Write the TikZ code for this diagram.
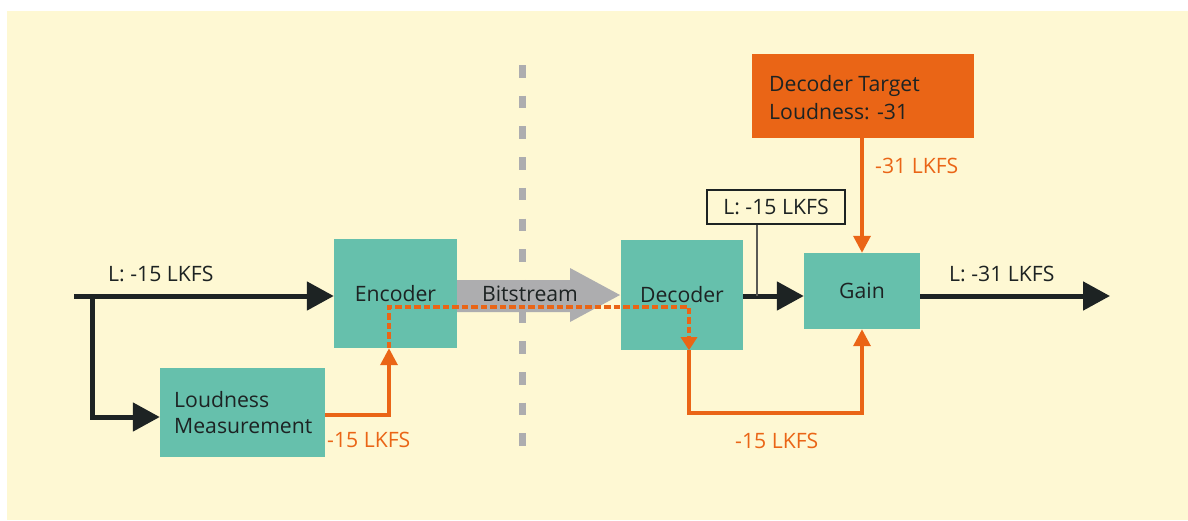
\documentclass[tikz,border=0pt]{standalone}
\usepackage{fontspec}
\setmainfont{Open Sans}
\usetikzlibrary{arrows.meta,calc}

\definecolor{paper}{HTML}{FEF8D3}
\definecolor{teal}{HTML}{66C0AC}
\definecolor{sig}{HTML}{EA6516}
\definecolor{ink}{HTML}{1D2323}
\definecolor{bitgray}{HTML}{ADADAF}
\definecolor{stemgray}{HTML}{5A5A55}

\tikzset{
  txt/.style={font=\fontsize{21.2}{28}\selectfont, text=ink},
  block/.style={fill=teal, draw=none, inner sep=0pt, txt},
  blk/.style={draw=ink, line width=5pt, -{Triangle[length=27pt,width=28pt]}},
  org/.style={draw=sig, line width=3.5pt, -{Triangle[length=17pt,width=17pt]}},
  orgdash/.style={draw=sig, line width=4pt, dash pattern=on 6.5pt off 3pt,
    -{Triangle[length=13pt,width=16pt]}},
  olabel/.style={txt, text=sig, anchor=base west, inner sep=0pt},
  klabel/.style={txt, anchor=base west, inner sep=0pt},
}

\begin{document}
\begin{tikzpicture}[x=1pt,y=-1pt]
  % page and panel
  \useasboundingbox (0,0) rectangle (1188,520);
  \fill[white] (0,0) rectangle (1188,520);
  \fill[paper] (7,11) rectangle (1188,520);

  % transmission boundary
  \draw[bitgray, line width=7pt, dash pattern=on 12.5pt off 18.2pt] (522,65) -- (522,447);

  % blocks
  \node[block, minimum width=123pt, minimum height=109pt] (enc) at (395.5,293.5) {Encoder};
  \node[block, minimum width=122pt, minimum height=110pt] (dec) at (682,295) {Decoder};
  \node[block, minimum width=116pt, minimum height=76pt] (gain) at (862,291) {Gain};
  \node[block, minimum width=165pt, minimum height=89pt] (loud) at (242.5,412.5) {};
  \node[block, fill=sig, minimum width=222pt, minimum height=84pt] (tgt) at (863,96) {};
  % multi-line labels: the base anchor sits on the last line
  \node[txt, anchor=base west, align=left, inner sep=0pt, font=\fontsize{21.2}{26}\selectfont]
    (loudtxt) at (174,433) {Loudness\\Measurement};
  \node[txt, anchor=base west, align=left, inner sep=0pt] (tgttxt) at (769,119)
    {Decoder Target\\Loudness: -31};

  % bitstream arrow
  \fill[bitgray] (457,280) -- (570,280) -- (570,268) -- (620,295) -- (570,322)
    -- (570,312) -- (457,312) -- cycle;
  \node[txt] (bits) at (530,294) {Bitstream};

  % signal path
  \coordinate (in) at (74,296);
  \coordinate (br) at (92,296);
  \coordinate (out) at (1110,296);
  \draw[blk] (in) -- (in -| enc.west);
  \draw[blk] (br) |- ($(loud.west)+(0,4.5)$);
  \draw[blk] (dec.east |- in) -- (gain.west |- in);
  \draw[blk] (gain.east |- out) -- (out);

  % measured loudness carried as metadata
  \coordinate (m1) at (389,307);
  \coordinate (m2) at (689,307);
  \draw[org] ($(loud.east)+(0,2.5)$) -| ([xshift=-6.5pt]enc.south);
  \draw[orgdash] ([xshift=-6.5pt]enc.south) -- (m1) -- (m2) -- ([xshift=7pt]dec.south);
  \draw[org] ([xshift=7pt]dec.south) -- ++(0,63) -| (gain.south);
  \draw[org] (tgt.south -| gain.north) -- (gain.north);

  % level tag on the decoded signal
  \node[draw=ink, line width=1.3pt, fill=paper, minimum width=138pt, minimum height=34pt,
    inner sep=0pt, txt] (tag) at (776,207) {L: -15 LKFS};
  \coordinate (stem) at (757,296);
  \draw[stemgray, line width=1.8pt] (tag.south -| stem) -- (stem);

  % labels
  \node[klabel] (lin) at (108,281) {L: -15 LKFS};
  \node[klabel] (lout) at (949,281) {L: -31 LKFS};
  \node[olabel] (lmeas) at (327,447) {-15 LKFS};
  \node[olabel] (lmeta) at (735,448) {-15 LKFS};
  \node[olabel] (ltgt) at (875,173) {-31 LKFS};
\end{tikzpicture}
\end{document}
